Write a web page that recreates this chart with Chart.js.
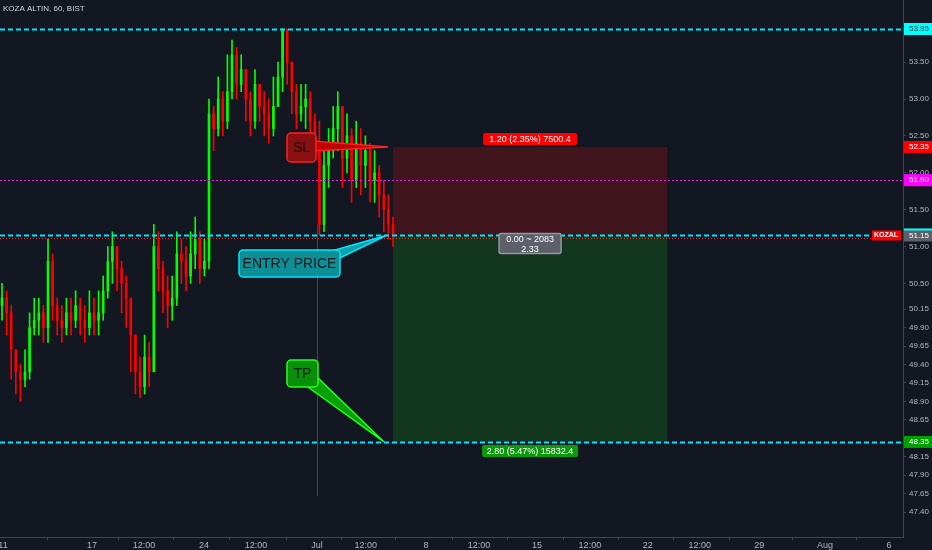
<!DOCTYPE html>
<html><head><meta charset="utf-8">
<script src="https://cdn.jsdelivr.net/npm/chart.js@4"></script>
<style>html,body{margin:0;background:#131722;}#w{width:932px;height:550px;position:relative}</style>
</head><body><div id="w"><canvas id="c"></canvas></div>
<script>
const closes=[50.3,50.1,49.6,49.3,49.2,49.3,49.9,50.0,50.1,49.9,
50.8,50.2,50.0,49.9,50.1,50.0,50.2,50.0,49.9,50.1,
50.0,50.1,50.4,50.8,51.0,50.7,50.5,50.3,49.8,49.3,
49.1,49.5,49.3,51.0,50.7,50.4,50.2,50.3,50.9,50.8,
50.6,50.9,51.1,50.7,50.8,52.8,52.6,53.0,52.7,53.1,
53.6,53.2,53.4,53.0,52.7,53.2,52.9,52.8,52.6,52.9,
53.3,53.95,53.5,53.1,52.8,52.9,53.0,52.7,52.4,51.3,
52.1,52.3,52.6,52.9,52.2,52.5,51.9,52.4,52.1,52.3,
51.9,52.0,51.7,51.5,51.3,51.15];
const firstOpen=50.2;
const highs=[50.5,50.4,50.2,49.6,49.4,49.6,50.1,50.3,50.3,50.2,
51.1,50.9,50.3,50.2,50.3,50.3,50.4,50.3,50.2,50.4,
50.3,50.4,50.6,51.0,51.2,51.0,50.8,50.6,50.3,49.8,
49.5,49.8,49.7,51.3,51.2,50.8,50.6,50.6,51.2,51.1,
51.0,51.2,51.4,51.2,51.1,53.0,52.9,53.3,53.1,53.6,
53.8,53.7,53.6,53.4,53.1,53.4,53.2,53.1,53.0,53.3,
53.5,53.95,53.8,53.5,53.2,53.2,53.2,53.1,52.8,52.7,
52.4,52.6,52.9,53.1,52.9,52.8,52.6,52.7,52.6,52.5,
52.4,52.3,52.1,51.9,51.7,51.4];
const lows=[50.0,49.8,49.2,49.0,48.9,49.1,49.2,49.8,49.8,49.7,
49.7,50.0,49.8,49.7,49.8,49.8,49.9,49.8,49.7,49.8,
49.8,49.8,50.0,50.3,50.5,50.4,50.1,49.9,49.3,49.0,
48.95,49.0,49.1,49.4,50.4,50.1,49.9,50.0,50.2,50.5,
50.4,50.5,50.7,50.5,50.6,50.7,52.3,52.5,52.5,52.6,
53.0,53.0,53.1,52.7,52.5,52.6,52.7,52.5,52.4,52.5,
52.9,53.1,53.2,52.8,52.6,52.7,52.6,52.4,52.2,51.15,
51.2,51.8,52.2,52.3,51.8,52.0,51.6,51.8,51.7,51.8,
51.6,51.6,51.4,51.2,51.1,51.0];
const xTickSlots=[0.22,19.57,30.87,43.9,55.2,68.5,79.1,92.2,103.7,116.3,127.8,140.4,151.7,164.6,178.9,192.8];
const xTickLabels=["11","17","12:00","24","12:00","Jul","12:00","8","12:00","15","12:00","22","12:00","29","Aug","6"];
const yTicks=[47.40,47.65,47.90,48.15,48.65,48.90,49.15,49.40,49.65,49.90,50.15,50.50,51.00,51.50,52.00,52.50,53.00,53.50];
const entry=51.15, stop=52.35, target=48.35, topLine=53.95, pinkLine=51.90;
const posStart=85, posEnd=144.6;

const opens=[firstOpen].concat(closes.slice(0,-1));
const col=closes.map((c,i)=>c>=opens[i]?'#00ff00':'#ff0000');
const bodies=closes.map((c,i)=>({x:i,y:[opens[i],c===opens[i]?c+0.01:c]}));
const wicks=closes.map((c,i)=>({x:i,y:[lows[i],highs[i]]}));

const deco={id:'deco',
beforeDatasetsDraw(ch){const{ctx,scales:{x,y}}=ch;
 ctx.save();
 const x0=x.getPixelForValue(posStart),x1=x.getPixelForValue(posEnd);
 ctx.fillStyle='rgba(120,20,25,0.45)';ctx.fillRect(x0,y.getPixelForValue(stop),x1-x0,y.getPixelForValue(entry)-y.getPixelForValue(stop));
 ctx.fillStyle='rgba(20,80,30,0.55)';ctx.fillRect(x0,y.getPixelForValue(entry),x1-x0,y.getPixelForValue(target)-y.getPixelForValue(entry));
 ctx.strokeStyle='rgba(200,60,60,0.6)';ctx.lineWidth=1;ctx.beginPath();const vx=Math.round(x.getPixelForValue(68.5))+0.5;ctx.moveTo(vx,y.getPixelForValue(51.3));ctx.lineTo(vx,y.getPixelForValue(47.62));ctx.stroke();
 ctx.restore();},
afterDatasetsDraw(ch){const{ctx,scales:{x,y}}=ch;const a=ch.chartArea;
 ctx.save();
 const hl=(v,c,d,w)=>{ctx.strokeStyle=c;ctx.setLineDash(d);ctx.lineWidth=w;ctx.beginPath();const py=Math.round(y.getPixelForValue(v))+0.5;ctx.moveTo(a.left,py);ctx.lineTo(a.right,py);ctx.stroke();};
 hl(51.11,'#ff2020',[1,2],1);
 hl(pinkLine,'#e020e0',[2,2],1);
 hl(topLine,'#00e5ff',[5,3],2);hl(entry,'#00e5ff',[5,3],2);hl(target,'#00e5ff',[5,3],2);
 ctx.setLineDash([]);
 const box=(x0,y0,w,h,bg,bd,txt,tc,fs,r)=>{ctx.fillStyle=bg;ctx.strokeStyle=bd;ctx.lineWidth=1.5;ctx.beginPath();ctx.roundRect(x0,y0,w,h,r);ctx.fill();if(bd)ctx.stroke();ctx.fillStyle=tc;ctx.font=fs+'px "Liberation Sans",Arial';ctx.textAlign='center';ctx.textBaseline='middle';
  const ls=txt.split('\n');ls.forEach((t,k)=>ctx.fillText(t,x0+w/2,y0+h/2+1+(k-(ls.length-1)/2)*(fs+1)));};
 const tri=(pts,fill,st)=>{ctx.fillStyle=fill;ctx.strokeStyle=st;ctx.lineWidth=1.5;ctx.beginPath();ctx.moveTo(pts[0][0],pts[0][1]);pts.slice(1).forEach(p=>ctx.lineTo(p[0],p[1]));ctx.closePath();ctx.fill();ctx.stroke();};
 const ex=x.getPixelForValue(83.5);
 tri([[312,141],[ex+2,y.getPixelForValue(stop)],[312,151]],'#c00000','#ff2020');
 box(287,133,29,29,'#8b0f10','#ff2020','SL','#1a0000',14,4);
 tri([[328,252],[ex,y.getPixelForValue(entry)],[340,258]],'#10a0a8','#00e5ff');
 box(239,250,101,27,'#0e8f96','#00e5ff','ENTRY PRICE','#0a1a1e',14,4);
 tri([[305,385],[ex-2,y.getPixelForValue(target)],[318,378]],'#08a008','#20ff20');
 box(287,360,31,27,'#0a8f0a','#20ff20','TP','#001a00',14,4);
 const cx=x.getPixelForValue((posStart+posEnd)/2);
 box(cx-47,y.getPixelForValue(stop)-14,94,12,'#ff0000',null,'1.20 (2.35%) 7500.4','#fff',9,2);
 box(cx-31,y.getPixelForValue(entry)-2,62,20,'#5d606b','#9598a1','0.00 ~ 2083\n2.33','#fff',9,2);
 box(cx-48,y.getPixelForValue(target)+3,96,12,'#0a9a0a',null,'2.80 (5.47%) 15832.4','#fff',9,2);
 const tag=(v,bg,tc,t)=>{const py=y.getPixelForValue(v);ctx.fillStyle=bg;ctx.fillRect(a.right+1,py-6,29,12);ctx.fillStyle=tc;ctx.font='8px "Liberation Sans",Arial';ctx.textAlign='left';ctx.textBaseline='middle';ctx.fillText(t,a.right+6,py);};
 tag(topLine,'#00ffff','#0a3a3a','53.95');tag(stop,'#ff0000','#fff','52.35');tag(pinkLine,'#ff00ff','#fff','51.90');
 tag(entry,'#5d606b','#fff','51.15');ctx.fillStyle='#00ffff';ctx.fillRect(a.right+1,y.getPixelForValue(entry)-7,29,2);
 tag(target,'#00a000','#fff','48.35');
 const py=y.getPixelForValue(entry);ctx.fillStyle='#ff0000';ctx.fillRect(872,py-5,29,10);ctx.fillStyle='#fff';ctx.font='bold 7px "Liberation Sans",Arial';ctx.textAlign='center';ctx.fillText('KOZAL',886,py);
 ctx.fillStyle='#d1d4dc';ctx.font='8px "Liberation Sans",Arial';ctx.textAlign='left';ctx.textBaseline='top';ctx.fillText('KOZA ALTIN, 60, BIST',3,5);
 ctx.restore();}};

new Chart(document.getElementById('c'),{
 type:'bar',
 data:{datasets:[
  {data:wicks,backgroundColor:col,barThickness:1,grouped:false,order:2},
  {data:bodies,backgroundColor:col,barThickness:2,grouped:false,order:1}]},
 options:{responsive:true,maintainAspectRatio:false,animation:false,
  layout:{padding:{top:0,left:0,right:0,bottom:0}},
  plugins:{legend:{display:false},tooltip:{enabled:false}},
  scales:{
   x:{type:'linear',offset:false,min:-0.435,max:195.87,grid:{display:true,drawOnChartArea:false,tickLength:3,color:'#434651'},border:{color:'#434651'},
     afterFit(s){s.height=13;s.paddingLeft=0;s.paddingRight=0;},
     afterBuildTicks(s){s.ticks=xTickSlots.map(v=>({value:v}));},
     ticks:{color:'#b2b5be',font:{size:9,family:'Liberation Sans'},padding:0,maxRotation:0,autoSkip:false,callback:(v,i)=>xTickLabels[i]}},
   y:{position:'right',min:47.061,max:54.343,grid:{display:true,drawOnChartArea:false,tickLength:3,color:'#434651'},border:{color:'#434651'},
     afterFit(s){s.width=29;s.paddingTop=0;s.paddingBottom=0;},
     afterBuildTicks(s){s.ticks=yTicks.map(v=>({value:v}));},
     ticks:{color:'#b2b5be',font:{size:8,family:'Liberation Sans'},padding:3,callback:v=>v.toFixed(2)}}
  }},
 plugins:[deco]});
</script></body></html>
